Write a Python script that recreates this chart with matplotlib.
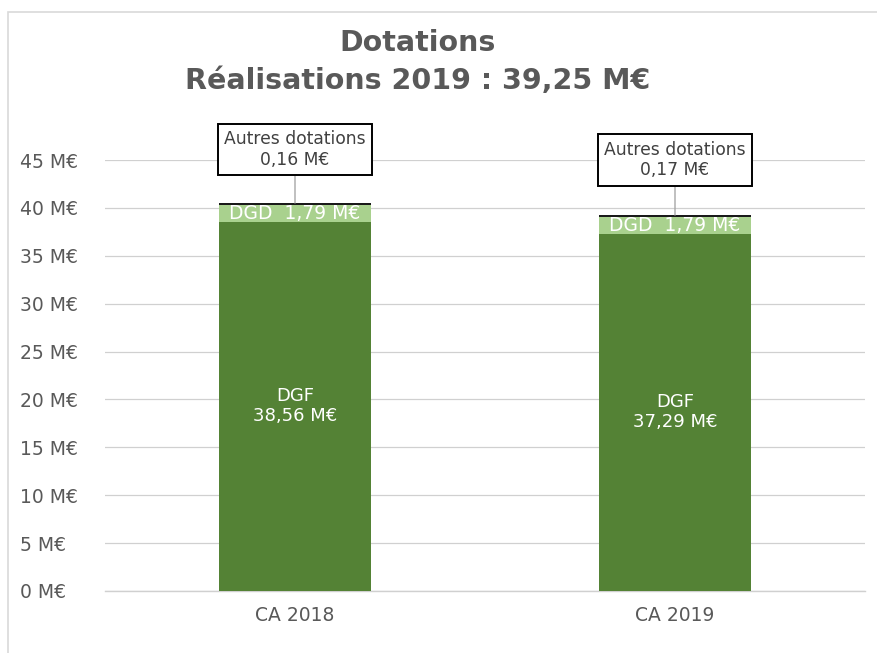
import matplotlib
matplotlib.use("Agg")
import matplotlib.pyplot as plt
from matplotlib.patches import Rectangle

categories = ["CA 2018", "CA 2019"]
dgf = [38.56, 37.29]
dgd = [1.79, 1.79]
autres = [0.16, 0.17]
dgf_labels = ["DGF\n38,56 M€", "DGF\n37,29 M€"]
dgd_labels = ["DGD  1,79 M€", "DGD  1,79 M€"]
autres_labels = ["Autres dotations\n0,16 M€", "Autres dotations\n0,17 M€"]
autres_label_y = [46.1, 45.0]
yticks = [0, 5, 10, 15, 20, 25, 30, 35, 40, 45]

plt.rcParams['font.family'] = ['DejaVu Sans']

fig = plt.figure(figsize=(8.77, 6.53), dpi=100)
fig.patches.append(Rectangle((8/877, -0.1), 1.2, 1 - 12/653 + 0.1, transform=fig.transFigure,
                             fill=False, edgecolor="#d9d9d9", lw=1.2))
ax = fig.add_axes([105/877, 1 - 591/653, 760/877, (591 - 160)/653])

x = list(range(len(categories)))
w = 0.4
ax.bar(x, dgf, width=w, color="#548235", zorder=3)
ax.bar(x, dgd, width=w, bottom=dgf, color="#A9D18E", zorder=3)
bottoms2 = [a + b for a, b in zip(dgf, dgd)]
ax.bar(x, autres, width=w, bottom=bottoms2, color="#1a1a1a", zorder=3)

for i in x:
    ax.text(i, dgf[i] / 2, dgf_labels[i], ha="center", va="center", color="white",
            fontsize=13, zorder=4, linespacing=1.15)
    ax.text(i, dgf[i] + dgd[i] / 2, dgd_labels[i], ha="center", va="center", color="white",
            fontsize=13.5, zorder=4)
    top = bottoms2[i] + autres[i]
    ax.annotate(autres_labels[i], xy=(i, top), xytext=(i, autres_label_y[i]),
                ha="center", va="center", fontsize=12.3, color="#404040", linespacing=1.2,
                bbox=dict(boxstyle="square,pad=0.38", fc="white", ec="black", lw=1.4),
                arrowprops=dict(arrowstyle="-", color="#a6a6a6", lw=1, shrinkA=0, shrinkB=0),
                annotation_clip=False, zorder=5)

ax.set_xlim(-0.5, 1.5)
ax.set_ylim(0, 45)
ax.set_yticks(yticks)
ax.set_yticklabels([f"{v} M€" for v in yticks])
ax.set_xticks(x)
ax.set_xticklabels(categories)
ax.tick_params(axis="both", length=0, labelsize=13.5, labelcolor="#595959")
for lab in ax.get_yticklabels():
    lab.set_horizontalalignment("left")
ax.tick_params(axis="y", pad=(105 - 20) * 0.72)
ax.tick_params(axis="x", pad=11)
ax.grid(axis="y", color="#d0d0d0", lw=0.9, zorder=0)
ax.axhline(0, color="#d0d0d0", lw=1.0, zorder=1, clip_on=False)
for s in ax.spines.values():
    s.set_visible(False)

fig.text(418/877, 1 - 43/653, "Dotations", ha="center", va="center", fontsize=20.5,
         fontweight="bold", color="#595959")
fig.text(418/877, 1 - 81/653, "Réalisations 2019 : 39,25 M€", ha="center", va="center",
         fontsize=20.5, fontweight="bold", color="#595959")

fig.savefig("out.png", dpi=100)
